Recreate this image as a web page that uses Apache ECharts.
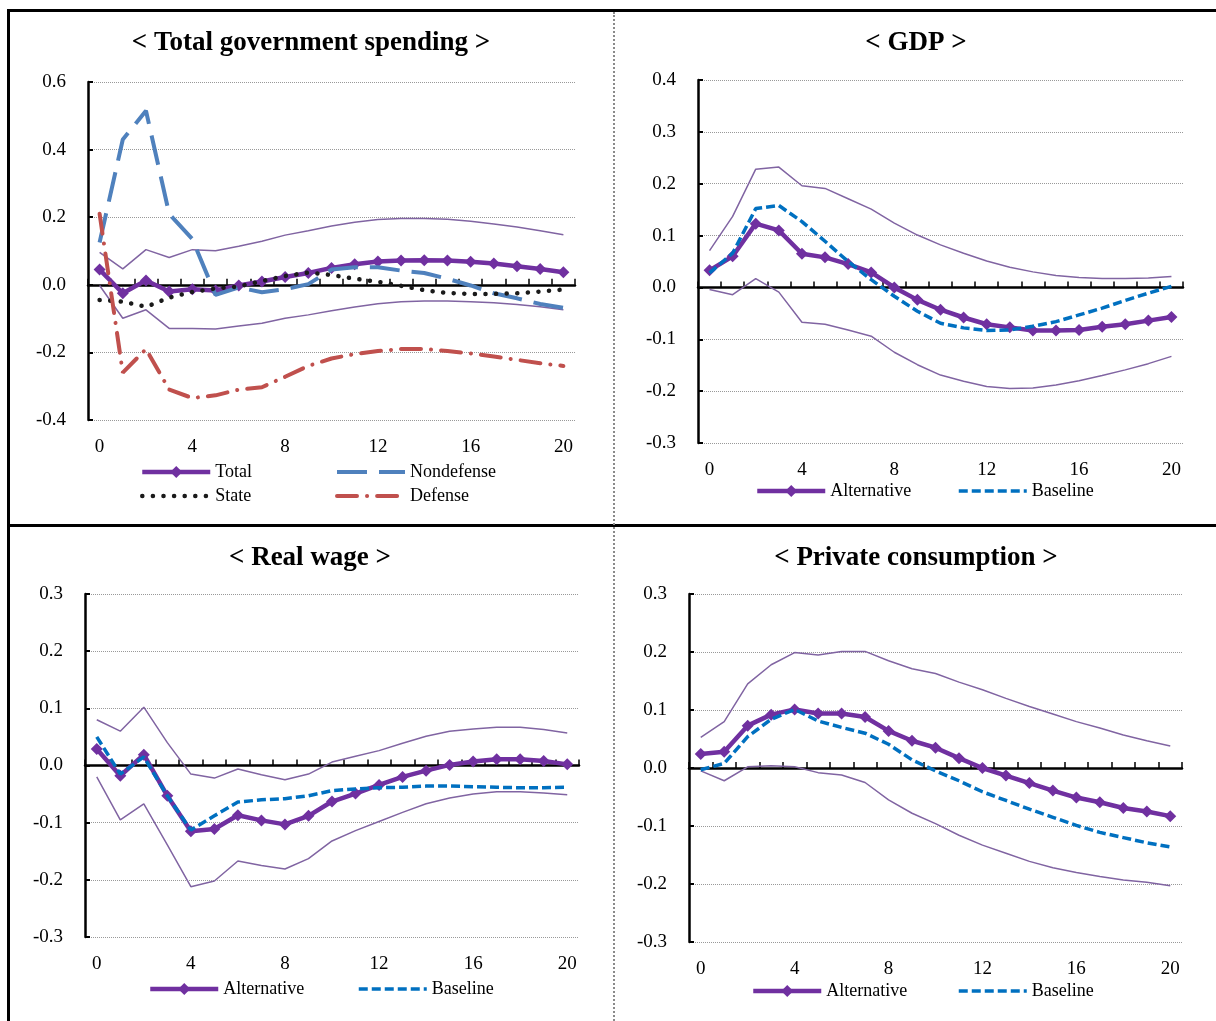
<!DOCTYPE html>
<html>
<head>
<meta charset="utf-8">
<title>Impulse responses</title>
<script src="https://cdn.jsdelivr.net/npm/echarts@6/dist/echarts.min.js"></script>
<style>
html, body { margin: 0; padding: 0; background: #fff; }
#chart { position: absolute; left: 0; top: 0; width: 1216px; height: 1021px; }
.rule { position: absolute; background: #000; }
.sep { position: absolute; border-left: 2px dotted #8a8a8a; }
</style>
</head>
<body>
<div id="chart"></div>
<div class="rule" style="left:7px;top:9px;width:1209px;height:3px"></div>
<div class="rule" style="left:7px;top:9px;width:3px;height:1012px"></div>
<div class="rule" style="left:7px;top:524px;width:1209px;height:3px"></div>
<div class="sep" style="left:613px;top:12px;height:1009px"></div>
<script>
// quarters after the shock
let steps = ['0','1','2','3','4','5','6','7','8','9','10','11','12','13','14','15','16','17','18','19','20'];

// < Total government spending >
let totalSpend = [0.045,-0.025,0.013,-0.02,-0.013,-0.017,-0.002,0.01,0.023,0.035,0.05,0.061,0.069,0.072,0.073,0.072,0.068,0.063,0.055,0.047,0.037];
let totalUpper = [0.096,0.047,0.104,0.081,0.104,0.101,0.114,0.129,0.147,0.16,0.174,0.185,0.193,0.196,0.196,0.194,0.188,0.18,0.171,0.16,0.148];
let totalLower = [-0.002,-0.099,-0.074,-0.129,-0.129,-0.131,-0.122,-0.114,-0.099,-0.089,-0.077,-0.066,-0.056,-0.05,-0.048,-0.048,-0.05,-0.053,-0.058,-0.065,-0.074];
let nondefense = [0.125,0.43,0.515,0.21,0.135,-0.03,-0.008,-0.022,-0.013,0.002,0.045,0.052,0.052,0.042,0.035,0.018,-0.002,-0.025,-0.04,-0.057,-0.068];
let stateSpend = [-0.045,-0.05,-0.065,-0.038,-0.021,-0.011,-0.005,0.011,0.026,0.036,0.029,0.018,0.009,-0.003,-0.016,-0.024,-0.027,-0.027,-0.025,-0.02,-0.014];
let defense = [0.21,-0.26,-0.19,-0.31,-0.335,-0.327,-0.31,-0.303,-0.272,-0.24,-0.218,-0.205,-0.196,-0.19,-0.19,-0.196,-0.203,-0.212,-0.222,-0.232,-0.24];

// < GDP >
let gdpAlt = [0.033,0.06,0.123,0.11,0.065,0.058,0.045,0.029,0.0,-0.024,-0.043,-0.058,-0.071,-0.077,-0.083,-0.083,-0.082,-0.076,-0.071,-0.064,-0.057];
let gdpBase = [0.028,0.066,0.152,0.158,0.127,0.089,0.05,0.015,-0.017,-0.046,-0.069,-0.078,-0.083,-0.082,-0.075,-0.066,-0.053,-0.04,-0.025,-0.011,0.002];
let gdpUpper = [0.071,0.137,0.228,0.232,0.196,0.191,0.171,0.151,0.124,0.101,0.082,0.066,0.051,0.039,0.03,0.023,0.019,0.017,0.017,0.018,0.021];
let gdpLower = [-0.004,-0.014,0.017,-0.009,-0.067,-0.071,-0.082,-0.094,-0.125,-0.149,-0.169,-0.181,-0.191,-0.195,-0.194,-0.188,-0.18,-0.17,-0.159,-0.147,-0.133];

// < Real wage >
let wageAlt = [0.029,-0.018,0.019,-0.053,-0.115,-0.111,-0.087,-0.096,-0.103,-0.088,-0.063,-0.049,-0.034,-0.02,-0.009,0.001,0.007,0.011,0.011,0.008,0.002];
let wageBase = [0.05,-0.015,0.015,-0.053,-0.113,-0.088,-0.064,-0.06,-0.058,-0.053,-0.044,-0.041,-0.039,-0.038,-0.036,-0.036,-0.037,-0.038,-0.039,-0.039,-0.038];
let wageUpper = [0.08,0.06,0.102,0.04,-0.015,-0.022,-0.006,-0.016,-0.025,-0.015,0.006,0.016,0.026,0.039,0.051,0.06,0.064,0.067,0.067,0.063,0.057];
let wageLower = [-0.02,-0.095,-0.067,-0.139,-0.212,-0.202,-0.167,-0.175,-0.181,-0.163,-0.132,-0.114,-0.098,-0.082,-0.067,-0.057,-0.05,-0.046,-0.046,-0.048,-0.051];

// < Private consumption >
let consAlt = [0.024,0.028,0.073,0.092,0.101,0.094,0.094,0.088,0.064,0.047,0.035,0.017,0.0,-0.013,-0.026,-0.039,-0.051,-0.059,-0.069,-0.075,-0.083];
let consBase = [-0.003,0.008,0.054,0.084,0.101,0.081,0.07,0.06,0.041,0.014,-0.005,-0.022,-0.041,-0.056,-0.071,-0.085,-0.099,-0.111,-0.12,-0.129,-0.136];
let consUpper = [0.053,0.08,0.145,0.178,0.199,0.195,0.201,0.201,0.185,0.171,0.163,0.148,0.135,0.12,0.106,0.093,0.08,0.069,0.057,0.047,0.038];
let consLower = [-0.005,-0.022,0.002,0.004,0.002,-0.008,-0.012,-0.025,-0.055,-0.078,-0.096,-0.116,-0.133,-0.147,-0.161,-0.172,-0.18,-0.187,-0.193,-0.197,-0.203];

let serif = 'Liberation Serif, Times New Roman, serif';
let purple = '#7030A0';
let bandColor = '#8064A2';

// line looks, shared by the plot and the legend samples
let lookMain = {color: purple, width: 4.5, type: 'solid', cap: 'butt'};
let lookBase = {color: '#0070C0', width: 3.5, type: [9, 4], cap: 'butt'};
let lookNondef = {color: '#4F81BD', width: 4, type: [30, 12], cap: 'butt'};
let lookState = {color: '#1a1a1a', width: 4.5, type: [0.1, 10.5], cap: 'round'};
let lookDefense = {color: '#C0504D', width: 4, type: [20, 10, 0.1, 10], cap: 'round'};

let titles = [];
let grids = [];
let xAxes = [];
let yAxes = [];
let series = [];
let legends = [];

function addPanel(k, title, titleX, box, yMin, yMax, yStep){
    titles.push({
        text: title, left: titleX, top: box.titleTop, textAlign: 'center', padding: 0,
        textStyle: {fontFamily: serif, fontSize: 27, fontWeight: 'bold', color: '#000'}
    });
    grids.push({left: box.left, top: box.top, width: box.width, height: box.height,
        containLabel: false, outerBoundsMode: 'none'});

    // line through zero with the small upward ticks
    xAxes.push({
        type: 'category', gridIndex: k, position: 'top', data: steps, boundaryGap: true,
        axisLine: {show: true, onZero: true, lineStyle: {color: '#000', width: 2.5}},
        axisTick: {show: true, interval: 0, length: 6, inside: false, lineStyle: {color: '#000', width: 1.5}},
        axisLabel: {show: false}, splitLine: {show: false}
    });
    // labels along the bottom
    xAxes.push({
        type: 'category', gridIndex: k, position: 'bottom', data: steps, boundaryGap: true,
        axisLine: {show: false}, axisTick: {show: false}, splitLine: {show: false},
        axisLabel: {interval: 3, margin: 18, fontFamily: serif, fontSize: 19, color: '#000'}
    });
    yAxes.push({
        type: 'value', gridIndex: k, min: yMin, max: yMax, interval: yStep,
        axisLine: {show: true, onZero: false, lineStyle: {color: '#000', width: 2.5}},
        axisTick: {show: true, inside: true, length: 5, lineStyle: {color: '#000', width: 2}},
        axisLabel: {margin: 22, fontFamily: serif, fontSize: 19, color: '#000',
            formatter: function (v) { return v.toFixed(1); }},
        splitLine: {show: true, lineStyle: {color: '#999', width: 1, type: 'dotted'}}
    });
}

function band(k, name, data){
    series.push({
        name: name, type: 'line', xAxisIndex: 2 * k, yAxisIndex: k, data: data,
        symbol: 'none', lineStyle: {color: bandColor, width: 1.5}, z: 2, silent: true
    });
}

function mainLine(k, name, data){
    series.push({
        name: name, type: 'line', xAxisIndex: 2 * k, yAxisIndex: k, data: data,
        symbol: 'diamond', symbolSize: 12, showAllSymbol: true,
        itemStyle: {color: purple}, lineStyle: lookMain, z: 3
    });
}

function styledLine(k, name, data, look){
    series.push({
        name: name, type: 'line', xAxisIndex: 2 * k, yAxisIndex: k, data: data,
        symbol: 'none', itemStyle: {color: look.color}, lineStyle: look, z: 4
    });
}

function legendItem(name, x, yc, look, withMarker){
    legends.push({
        data: [name], left: x, top: yc - 9, padding: 0, itemWidth: 68, itemHeight: 15,
        selectedMode: false,
        lineStyle: {width: look.width, type: look.type, cap: look.cap, color: look.color},
        itemStyle: {opacity: withMarker ? 1 : 0},
        textStyle: {fontFamily: serif, fontSize: 18, color: '#000', lineHeight: 18}
    });
}

addPanel(0, '< Total government spending >', 311, {left: 88, top: 82, width: 487, height: 338, titleTop: 30}, -0.4, 0.6, 0.2);
addPanel(1, '< GDP >', 916, {left: 698, top: 80, width: 485, height: 363, titleTop: 30}, -0.3, 0.4, 0.1);
addPanel(2, '< Real wage >', 310, {left: 85, top: 594, width: 494, height: 343, titleTop: 545}, -0.3, 0.3, 0.1);
addPanel(3, '< Private consumption >', 916, {left: 689, top: 594, width: 493, height: 348, titleTop: 545}, -0.3, 0.3, 0.1);

band(0, 'Total upper', totalUpper);
band(0, 'Total lower', totalLower);
mainLine(0, 'Total', totalSpend);
styledLine(0, 'Nondefense', nondefense, lookNondef);
styledLine(0, 'State', stateSpend, lookState);
styledLine(0, 'Defense', defense, lookDefense);

band(1, 'GDP upper', gdpUpper);
band(1, 'GDP lower', gdpLower);
mainLine(1, 'Alternative', gdpAlt);
styledLine(1, 'Baseline', gdpBase, lookBase);

band(2, 'Wage upper', wageUpper);
band(2, 'Wage lower', wageLower);
mainLine(2, 'Alternative', wageAlt);
styledLine(2, 'Baseline', wageBase, lookBase);

band(3, 'Consumption upper', consUpper);
band(3, 'Consumption lower', consLower);
mainLine(3, 'Alternative', consAlt);
styledLine(3, 'Baseline', consBase, lookBase);

legendItem('Total', 140, 472, lookMain, true);
legendItem('Nondefense', 335, 472, lookNondef, false);
legendItem('State', 140, 496, lookState, false);
legendItem('Defense', 335, 496, lookDefense, false);
legendItem('Alternative', 755, 491, lookMain, true);
legendItem('Baseline', 957, 491, lookBase, false);
legendItem('Alternative', 148, 989, lookMain, true);
legendItem('Baseline', 357, 989, lookBase, false);
legendItem('Alternative', 751, 991, lookMain, true);
legendItem('Baseline', 957, 991, lookBase, false);

let myChart = echarts.init(document.getElementById('chart'), null, {renderer: 'canvas'});
myChart.setOption({
    backgroundColor: '#fff',
    animation: false,
    title: titles,
    grid: grids,
    xAxis: xAxes,
    yAxis: yAxes,
    legend: legends,
    series: series
});
</script>
</body>
</html>
